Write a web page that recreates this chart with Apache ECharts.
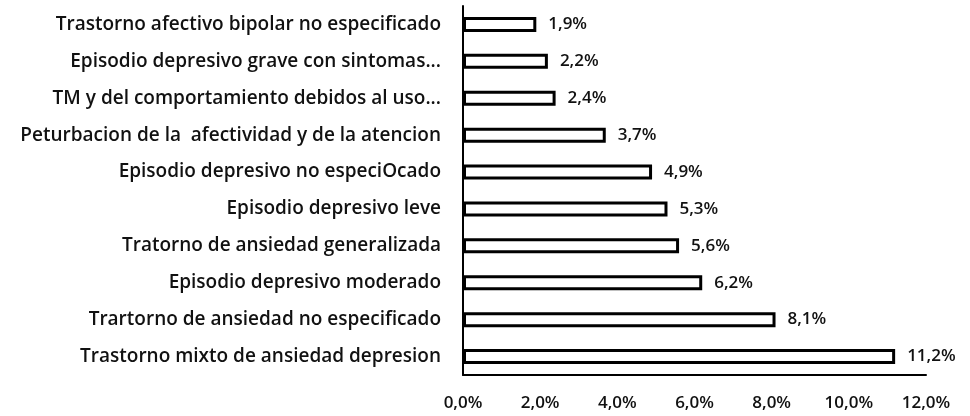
<!DOCTYPE html>
<html lang="es">
<head>
    <meta charset="UTF-8">
    <title>Diagnosticos</title>
    <script type="text/javascript" src="https://cdn.jsdelivr.net/npm/echarts@6/dist/echarts.min.js"></script>
    <style>
        html, body {margin: 0; padding: 0; background: #fff;}
        #main {width: 970px; height: 416px;}
    </style>
</head>
<body>
    <div id="main"></div>
    <script>
        // de abajo hacia arriba
        var categorias = [
            'Trastorno mixto de ansiedad depresion',
            'Trartorno de ansiedad no especificado',
            'Episodio depresivo moderado',
            'Tratorno de ansiedad generalizada',
            'Episodio depresivo leve',
            'Episodio depresivo no especiOcado',
            'Peturbacion de la  afectividad y de la atencion',
            'TM y del comportamiento debidos al uso...',
            'Episodio depresivo grave con sintomas...',
            'Trastorno afectivo bipolar no especificado'
        ];
        var porcentajes = [11.2, 8.1, 6.2, 5.6, 5.3, 4.9, 3.7, 2.4, 2.2, 1.9];
        var ticks = [0, 2, 4, 6, 8, 10, 12];

        function coma(v, dec) {
            return v.toFixed(dec).replace('.', ',') + '%';
        }

        var myChart = echarts.init(document.getElementById('main'));
        myChart.setOption({
            animation: false,
            textStyle: {fontFamily: 'Open Sans', color: '#111'},
            grid: {left: 463, right: 44, top: 6, bottom: 41},
            xAxis: {
                type: 'value',
                min: ticks[0],
                max: ticks[ticks.length - 1],
                interval: 2,
                axisLine: {show: true, lineStyle: {color: '#000', width: 2}},
                axisTick: {show: false},
                splitLine: {show: false},
                axisLabel: {
                    margin: 20,
                    fontSize: 17,
                    fontWeight: 600,
                    color: '#111',
                    formatter: function (v) { return coma(v, 1); }
                }
            },
            yAxis: {
                type: 'category',
                data: categorias,
                axisLine: {show: true, lineStyle: {color: '#000', width: 2}},
                axisTick: {show: false},
                axisLabel: {
                    margin: 22,
                    fontSize: 19,
                    fontWeight: 600,
                    color: '#111'
                }
            },
            series: [{
                type: 'bar',
                data: porcentajes,
                barWidth: 15,
                itemStyle: {color: '#fff', borderColor: '#000', borderWidth: 3},
                label: {
                    show: true,
                    position: 'right',
                    distance: 12,
                    fontSize: 17,
                    fontWeight: 600,
                    color: '#111',
                    formatter: function (p) { return coma(p.value, 1); }
                }
            }]
        });
    </script>
</body>
</html>
